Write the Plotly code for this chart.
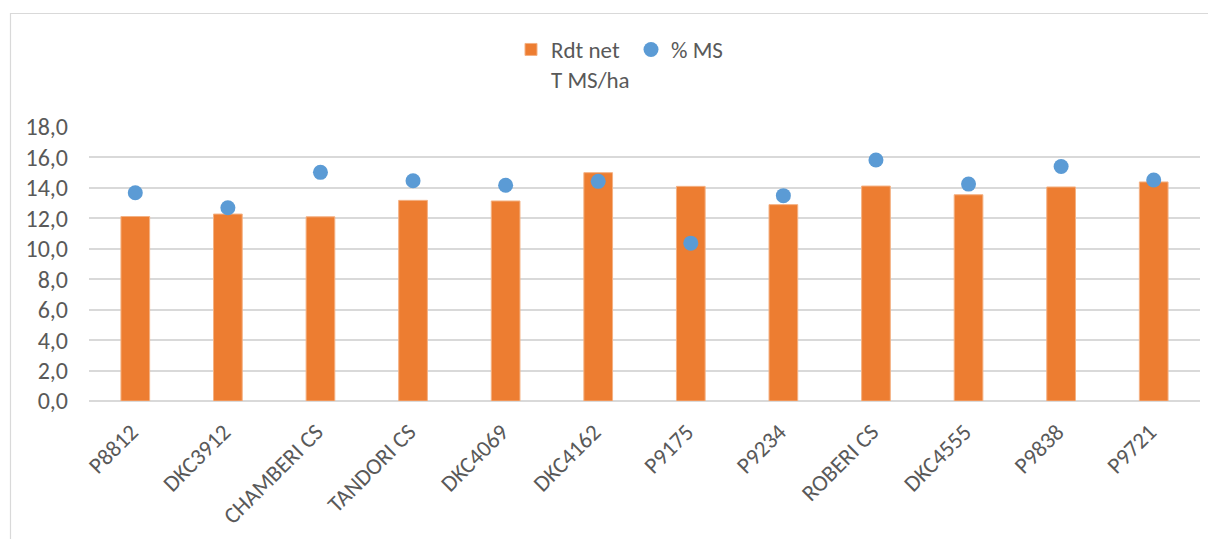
import plotly.graph_objects as go

categories = ["P8812", "DKC3912", "CHAMBERI CS", "TANDORI CS", "DKC4069", "DKC4162",
              "P9175", "P9234", "ROBERI CS", "DKC4555", "P9838", "P9721"]
rdt_net = [12.12, 12.28, 12.10, 13.18, 13.14, 15.00, 14.10, 12.90, 14.12, 13.55, 14.06, 14.39]
pct_ms = [13.68, 12.70, 15.02, 14.47, 14.17, 14.43, 10.37, 13.49, 15.83, 14.25, 15.41, 14.52]
y_ticks = [0, 2, 4, 6, 8, 10, 12, 14, 16, 18]

# page has an 8px body margin; figure coordinates are page - 8
W, H = 1208, 531
L, R, T, B = 81, 16, 119, 138
pw, ph = W - L - R, H - T - B

font_family = "Carlito, Calibri, Lato, 'Liberation Sans', sans-serif"
grey = "#595959"

fig = go.Figure()
fig.add_trace(go.Bar(
    x=categories, y=rdt_net, name="Rdt net<br>T MS/ha",
    marker=dict(color="#ED7D31", line=dict(color="#F4B183", width=1)),
))
fig.add_trace(go.Scatter(
    x=categories, y=pct_ms, name="% MS", mode="markers",
    marker=dict(color="#5B9BD5", size=15),
))

fig.update_layout(
    width=W, height=H,
    margin=dict(l=L, r=R, t=T, b=B, pad=0),
    paper_bgcolor="white", plot_bgcolor="white",
    separators=", ",
    bargap=0.69,
    font=dict(family=font_family, size=22, color=grey),
    showlegend=True,
    legend=dict(orientation="h", x=(503 - L) / pw, xanchor="left",
                y=1 + (T - 20) / ph, yanchor="top", valign="top",
                font=dict(size=23, color=grey), bgcolor="rgba(0,0,0,0)",
                entrywidth=75, entrywidthmode="pixels",
                traceorder="normal"),
    xaxis=dict(tickangle=-45, tickfont=dict(size=23, color=grey), showgrid=False,
               showline=False, ticks="", zeroline=False, automargin=False,
               ticklabelstandoff=12, ticklabelshift=-4,
               range=[-0.5, len(categories) - 0.5]),
    yaxis=dict(range=[0, 18], tickvals=y_ticks, tickformat=".1f",
               tickfont=dict(size=24, color=grey), showgrid=True,
               gridcolor="#D9D9D9", gridwidth=1.5, zeroline=True,
               zerolinecolor="#D9D9D9", zerolinewidth=1.5, showline=False,
               ticks="", ticklabelstandoff=20, automargin=False),
    shapes=[dict(type="rect", xref="paper", yref="paper",
                 x0=(2.5 - L) / pw, x1=(W + 20 - L) / pw,
                 y0=-(B + 20) / ph, y1=1 + (T - 5.5) / ph,
                 line=dict(color="#D9D9D9", width=1.2), layer="below")],
)

fig.write_html("out.html")
